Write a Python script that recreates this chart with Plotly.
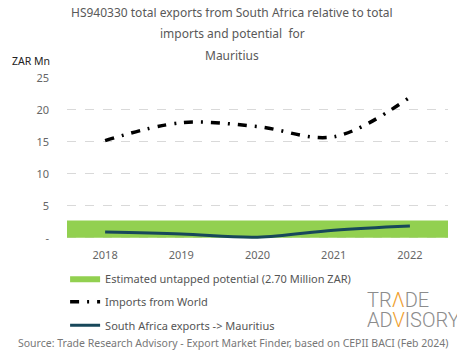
import plotly.graph_objects as go

years = [2018, 2019, 2020, 2021, 2022]
imports_world = [15.2, 18.0, 17.4, 15.8, 22.0]
sa_exports = [0.9, 0.6, 0.1, 1.2, 1.85]
untapped_potential = 2.70
y_tick_vals = [0, 5, 10, 15, 20, 25]
y_tick_text = ["-", "5", "10", "15", "20", "25"]
title_lines = [
    "HS940330 total exports from South Africa relative to total",
    "imports and potential  for",
    "Mauritius",
]

FONT = "Noto Sans"
GRAY = "#666666"

fig = go.Figure()

x0 = years[0] - 0.5
x1 = years[-1] + 0.5
fig.add_trace(go.Scatter(
    x=[x0, x1, x1, x0, x0],
    y=[0, 0, untapped_potential, untapped_potential, 0],
    fill="toself", fillcolor="#92d050", mode="lines",
    line=dict(width=0, color="#92d050"),
    name="Estimated untapped potential (2.70 Million ZAR)",
    legendgroup="a", hoverinfo="skip",
))
fig.add_trace(go.Scatter(
    x=years, y=imports_world, mode="lines",
    line=dict(color="black", width=3.5, dash="9px,8px,2px,8px", shape="spline"),
    name="Imports from World", legendgroup="b",
))
fig.add_trace(go.Scatter(
    x=years, y=sa_exports, mode="lines",
    line=dict(color="#17475a", width=3, shape="spline"),
    name="South Africa exports -> Mauritius", legendgroup="c",
))

fig.update_layout(
    width=457, height=351,
    margin=dict(l=59, r=17, t=70, b=118, autoexpand=False),
    paper_bgcolor="white", plot_bgcolor="white",
    font=dict(family=FONT, color=GRAY, size=11),
    xaxis=dict(
        range=[x0, x1], tickvals=years, ticktext=[str(y) for y in years],
        showgrid=False, zeroline=False, showline=False, ticks="",
        tickfont=dict(size=11, color=GRAY), ticklabelstandoff=6,
    ),
    yaxis=dict(
        range=[-0.5, 25], tickvals=y_tick_vals, ticktext=y_tick_text,
        showgrid=True, gridcolor="#d9d9d9", griddash="dash", gridwidth=1,
        zeroline=False, showline=False, ticks="", ticklabelstandoff=17,
        tickfont=dict(size=11, color=GRAY),
    ),
    legend=dict(
        x=-0.005, xanchor="left", y=-0.14, yanchor="top",
        orientation="v", font=dict(size=11, color="#555555"),
        tracegroupgap=4.5, itemwidth=30, bgcolor="rgba(0,0,0,0)",
    ),
    showlegend=True,
)

for txt, yy in zip(title_lines, [1.404, 1.270, 1.135]):
    fig.add_annotation(
        text=txt, xref="paper", yref="paper", x=0.434, y=yy,
        xanchor="center", yanchor="middle", showarrow=False,
        font=dict(size=12, color="#595959", family=FONT),
    )

fig.add_annotation(
    text="ZAR Mn", xref="paper", yref="paper", x=-0.1496, y=1.104,
    xanchor="left", yanchor="middle", showarrow=False,
    font=dict(size=10.5, color="#222222", family=FONT),
)
fig.add_annotation(
    text="Source: Trade Research Advisory - Export Market Finder, based on CEPII BACI (Feb 2024)",
    xref="paper", yref="paper", x=0.436, y=-0.624, xanchor="center", yanchor="middle",
    showarrow=False, font=dict(size=10.5, color="#777777", family=FONT),
)
fig.add_annotation(
    text="TR<span style='color:#f0a030'>Λ</span>DE", xref="paper", yref="paper",
    x=0.783, y=-0.36, xanchor="left", yanchor="middle", showarrow=False,
    font=dict(size=20, color="#8c8c8c", family="Roboto", weight=300),
)
fig.add_annotation(
    text="AD<span style='color:#f0a030'>V</span>ISORY", xref="paper", yref="paper",
    x=0.783, y=-0.483, xanchor="left", yanchor="middle", showarrow=False,
    font=dict(size=20, color="#8c8c8c", family="Roboto", weight=300),
)

fig.write_html("out.html")
